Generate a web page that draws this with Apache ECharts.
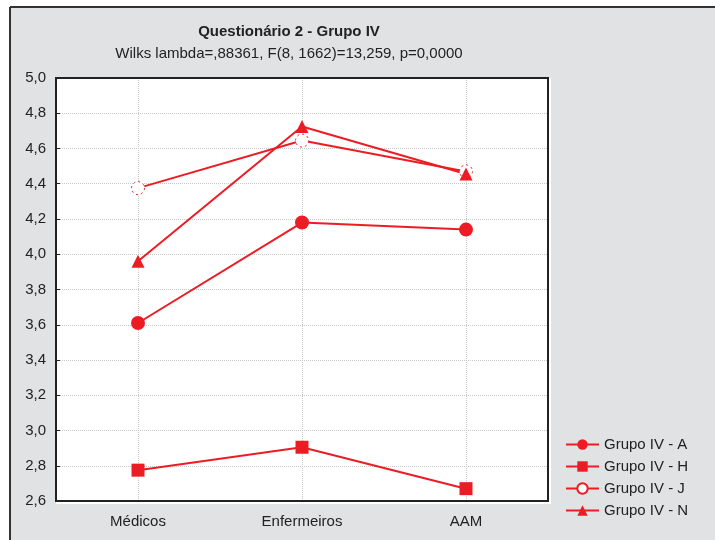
<!DOCTYPE html>
<html><head><meta charset="utf-8">
<script src="https://cdn.jsdelivr.net/npm/echarts@6/dist/echarts.min.js"></script>
<style>html,body{margin:0;padding:0;background:#fff}#c{width:715px;height:540px}</style>
</head><body><div id="c"></div>
<script>
const categories = ['Médicos', 'Enfermeiros', 'AAM'];
const grupoA = [3.61, 4.18, 4.14];
const grupoH = [2.775, 2.905, 2.67];
const grupoJ = [4.375, 4.645, 4.47];
const grupoN = [3.96, 4.725, 4.455];
const seriesNames = ['Grupo IV - A', 'Grupo IV - H', 'Grupo IV - J', 'Grupo IV - N'];
const yMin = 2.6, yMax = 5.0, yStep = 0.2;

const RED = '#ed1c24';
const FONT = 'Liberation Sans';
const chart = echarts.init(document.getElementById('c'), null, {renderer: 'canvas'});
function mk(name, data, symbol, size, extra) {
  return Object.assign({
    name, type: 'line', data, symbol, symbolSize: size,
    lineStyle: {color: RED, width: 2},
    itemStyle: {color: RED},
    emphasis: {disabled: true}, animation: false
  }, extra || {});
}
chart.setOption({
  backgroundColor: '#fff',
  animation: false,
  textStyle: {fontFamily: FONT},
  graphic: [
    {type: 'rect', z: -100, shape: {x: 10, y: 7, width: 710, height: 540}, style: {fill: '#e1e2e4'}},
    {type: 'rect', z: -90, shape: {x: 56, y: 78, width: 495, height: 426}, style: {fill: '#fff'}},
    {type: 'line', z: -80, shape: {x1: 10, y1: 7, x2: 715, y2: 7}, style: {stroke: '#333', lineWidth: 2}},
    {type: 'line', z: -80, shape: {x1: 10, y1: 7, x2: 10, y2: 540}, style: {stroke: '#333', lineWidth: 2}}
  ],
  title: [
    {text: 'Questionário 2 - Grupo IV', left: 284, top: 19, textAlign: 'center',
     textStyle: {fontFamily: FONT, fontSize: 15, fontWeight: 'bold', color: '#222'}},
    {text: 'Wilks lambda=,88361, F(8, 1662)=13,259, p=0,0000', left: 284, top: 41, textAlign: 'center',
     textStyle: {fontFamily: FONT, fontSize: 15, fontWeight: 'normal', color: '#222'}}
  ],
  legend: {
    orient: 'vertical', left: 560, top: 432, itemWidth: 33, itemHeight: 13, itemGap: 7,
    textStyle: {fontFamily: FONT, fontSize: 15, color: '#222'},
    data: seriesNames
  },
  grid: {left: 56, top: 78, right: 167, bottom: 39, show: true, borderColor: '#222', borderWidth: 2, backgroundColor: '#fff'},
  xAxis: [
    {type: 'category', data: categories, position: 'bottom',
     axisLine: {lineStyle: {color: '#222', width: 2}},
     axisTick: {inside: true, alignWithLabel: true, length: 4, lineStyle: {color: '#222'}},
     axisLabel: {fontFamily: FONT, fontSize: 15, color: '#222', margin: 13},
     splitLine: {show: true, alignWithLabel: true, lineStyle: {color: '#c8c8c8', type: 'dotted'}}},
    {type: 'category', data: categories, position: 'top',
     axisLine: {lineStyle: {color: '#222', width: 2}},
     axisTick: {inside: true, alignWithLabel: true, length: 4, lineStyle: {color: '#222'}},
     axisLabel: {show: false}, splitLine: {show: false}}
  ],
  yAxis: {
    type: 'value', min: yMin, max: yMax, interval: yStep,
    axisLine: {show: true, lineStyle: {color: '#222', width: 2}},
    axisTick: {show: true, inside: true, length: 4, lineStyle: {color: '#222'}},
    axisLabel: {fontFamily: FONT, fontSize: 15, color: '#222', margin: 10,
      formatter: v => v.toFixed(1).replace('.', ',')},
    splitLine: {show: true, lineStyle: {color: '#c8c8c8', type: 'dotted'}}
  },
  series: [
    mk(seriesNames[0], grupoA, 'circle', 14),
    mk(seriesNames[1], grupoH, 'rect', 13),
    mk(seriesNames[2], grupoJ, 'circle', 13, {itemStyle: {color: '#fff', borderColor: RED, borderWidth: 1, borderType: [2, 3]}}),
    mk(seriesNames[3], grupoN, 'triangle', 13)
  ]
});
</script></body></html>
